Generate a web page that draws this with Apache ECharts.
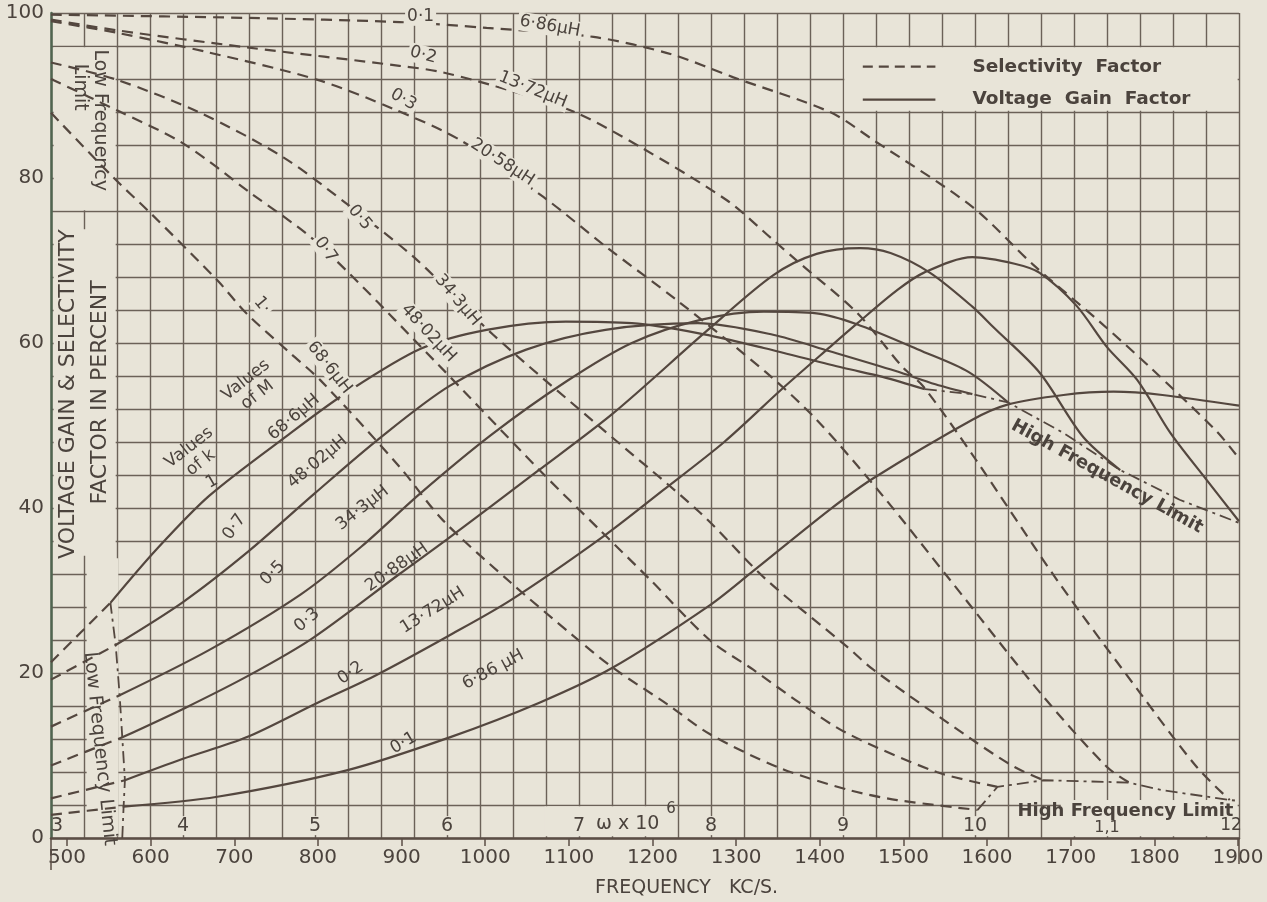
<!DOCTYPE html>
<html>
<head>
<meta charset="utf-8">
<script src="https://cdn.jsdelivr.net/npm/echarts@6.0.0/dist/echarts.min.js"></script>
<style>
  html, body { margin: 0; padding: 0; background: #e8e4d8; }
  #chart { width: 1267px; height: 902px; }
</style>
</head>
<body>
<div id="chart"></div>
<script>
// axis ticks
var freqTicks = [500, 600, 700, 800, 900, 1000, 1100, 1200, 1300, 1400, 1500, 1600, 1700, 1800, 1900];
var omegaLabels = [4, 5, 6, 8, 9, 10];

// voltage gain factor (solid), [omega x 10^6, percent]
var gainK1  = [[3.45,28.5],[3.8,35.0],[4.2,41.5],[4.8,48.9],[5.24,54.0],[5.8,59.3],[6.3,61.6],[6.9,62.6],[7.4,62.4],[7.9,61.2],[8.4,59.4],[9.0,57.0],[9.3,55.9],[9.62,54.4]];
var gainK07 = [[3.49,23.4],[4.0,28.6],[4.5,34.8],[5.0,41.8],[5.47,48.2],[6.02,54.8],[6.6,59.2],[7.2,61.6],[7.9,62.4],[8.47,61.0],[8.9,59.0],[9.4,56.6],[9.7,55.0],[9.98,53.8]];
var gainK05 = [[3.52,17.3],[4.2,22.8],[4.89,29.5],[5.35,35.3],[5.8,41.8],[6.33,48.8],[6.9,55.3],[7.4,60.0],[7.92,62.8],[8.4,63.8],[8.8,63.6],[9.1,62.3],[9.6,59.0],[9.95,56.5],[10.25,52.8]];
var gainK03 = [[3.54,12.2],[4.02,15.8],[4.51,19.8],[4.98,24.2],[5.64,32.0],[6.0,36.2],[6.68,44.4],[7.26,51.5],[7.97,61.5],[8.47,68.2],[8.8,70.8],[9.13,71.5],[9.36,70.9],[9.66,68.5],[9.98,64.4],[10.14,61.9],[10.49,56.4],[10.82,48.6],[11.1,44.6]];
var gainK02 = [[3.56,7.0],[4.0,9.6],[4.48,12.2],[5.02,16.4],[5.47,19.8],[6.0,24.4],[6.48,28.8],[7.18,36.5],[7.64,42.2],[8.1,48.0],[8.55,54.6],[8.9,59.5],[9.11,62.4],[9.41,66.4],[9.61,68.5],[9.98,70.4],[10.3,69.6],[10.49,68.5],[10.77,64.5],[11.0,59.5],[11.23,55.5],[11.48,49.1],[11.75,43.5],[12.0,38.4]];
var gainK01 = [[3.55,3.8],[4.26,5.0],[5.24,8.2],[6.02,12.2],[6.7,16.4],[7.25,20.6],[7.99,28.2],[8.3,32.1],[8.9,39.8],[9.23,43.6],[9.98,50.7],[10.24,52.5],[10.67,53.7],[11.05,54.1],[11.42,53.7],[12.0,52.4]];

// gain curves continued below the low frequency limit (dashed)
var extK1  = [[3.0,21.3],[3.45,28.5]];
var extK07 = [[3.0,19.2],[3.49,23.4]];
var extK05 = [[3.0,13.5],[3.52,17.3]];
var extK03 = [[3.0,8.8],[3.54,12.2]];
var extK02 = [[3.0,4.8],[3.56,7.0]];
var extK01 = [[3.0,2.8],[3.55,3.8]];

// selectivity factor (dashed)
var selK01 = [[3.0,99.8],[4.5,99.4],[5.64,98.9],[6.3,98.2],[7.11,97.1],[7.7,95.0],[8.17,92.2],[8.9,88.0],[9.23,84.6],[9.98,76.5],[10.44,69.5],[10.95,62.5],[11.33,57.0],[11.83,49.3],[12.0,46.0]];
var selK02 = [[3.0,99.2],[3.5,97.9],[4.5,95.8],[5.64,93.6],[5.97,92.8],[6.5,90.5],[6.98,87.9],[7.46,83.8],[8.12,77.3],[8.47,72.5],[8.67,69.7],[9.11,63.6],[9.45,57.1],[9.61,54.7],[10.0,46.0],[10.62,31.3],[11.25,17.6],[11.68,8.6],[11.93,4.6]];
var selK03 = [[3.0,99.0],[3.5,97.6],[4.2,95.2],[5.02,91.9],[5.59,88.4],[6.1,84.6],[6.73,77.7],[7.21,71.6],[7.74,65.2],[8.42,56.4],[8.8,50.7],[9.3,41.5],[9.81,31.3],[10.52,17.1],[11.0,8.6],[11.17,6.7]];
var selK05 = [[3.0,94.0],[3.5,91.9],[4.13,87.9],[4.76,82.5],[5.27,76.5],[5.77,70.1],[6.35,61.0],[7.16,49.8],[7.92,39.4],[8.42,31.3],[9.03,23.2],[9.23,20.4],[9.98,11.9],[10.3,8.6],[10.52,7.0]];
var selK07 = [[3.0,92.0],[3.5,88.2],[4.0,84.2],[4.51,78.2],[5.02,72.1],[5.92,57.6],[6.7,44.6],[7.16,37.3],[7.54,31.3],[7.99,24.0],[8.32,20.4],[8.67,16.4],[9.03,12.7],[9.71,8.0],[10.17,6.2]];
var selK1  = [[3.0,87.9],[3.47,80.1],[3.75,75.8],[4.26,67.6],[4.48,63.6],[4.81,58.8],[5.04,55.5],[5.64,45.0],[5.97,38.5],[6.48,31.0],[6.95,24.6],[7.26,20.6],[7.67,16.2],[7.99,12.6],[8.52,8.5],[9.05,5.8],[9.41,4.6],[10.02,3.4]];

// limit lines (dash-dot)
var lfLimit = [[3.54,0],[3.55,3.8],[3.56,7.0],[3.54,12.2],[3.52,17.3],[3.49,23.4],[3.45,28.5]];
var hfGainLimit = [[9.62,54.4],[9.98,53.8],[10.25,52.8],[10.67,49.1],[11.1,44.6],[11.55,41.0],[12.0,38.2]];
var hfSelLimit = [[10.02,3.4],[10.17,6.2],[10.52,7.0],[11.0,6.8],[11.17,6.7],[11.42,5.8],[11.93,4.6],[12.0,4.5]];

var PAPER = '#e8e4d8';
var INK = '#4b433d';
var GRID = '#6b6158';
var CURVE = '#54473f';
var FONT = '"DejaVu Sans", sans-serif';

function solid(data) {
  return { type: 'line', data: data, smooth: 0.3, showSymbol: false, silent: true,
    lineStyle: { color: CURVE, width: 2.2 }, z: 3 };
}
function dashed(data) {
  return { type: 'line', data: data, smooth: 0.3, showSymbol: false, silent: true,
    lineStyle: { color: CURVE, width: 2.2, type: [11, 7] }, z: 3 };
}
function dashDot(data) {
  return { type: 'line', data: data, smooth: false, showSymbol: false, silent: true,
    lineStyle: { color: CURVE, width: 1.8, type: [12, 5, 3, 5] }, z: 3 };
}

var chart = echarts.init(document.getElementById('chart'));

var option = {
  backgroundColor: PAPER,
  animation: false,
  grid: { left: 51, right: 28, top: 13, bottom: 64 },
  xAxis: [
    {
      type: 'value', min: 3, max: 12, interval: 0.25,
      axisLine: { show: true, lineStyle: { color: '#5b4e45', width: 2.5 } },
      axisTick: { show: false },
      axisLabel: { show: false },
      splitLine: { show: true, lineStyle: { color: GRID, width: 1.4 } }
    },
    {
      type: 'value', min: 480.9, max: 1901.2, position: 'bottom',
      axisLine: { show: false },
      axisTick: { show: true, customValues: freqTicks, length: 8, lineStyle: { color: '#5b4e45', width: 1.5 } },
      axisLabel: { customValues: freqTicks, margin: 10, color: INK, fontSize: 20, fontFamily: FONT,
        formatter: function (v) { return String(v); } },
      splitLine: { show: false }
    }
  ],
  yAxis: {
    type: 'value', min: 0, max: 100, interval: 4,
    axisLine: { show: true, lineStyle: { color: '#506550', width: 2.5 } },
    axisTick: { show: false },
    axisLabel: {
      color: INK, fontSize: 20, fontFamily: FONT, margin: 7,
      formatter: function (v) { return v % 20 === 0 ? String(v) : ''; }
    },
    splitLine: { show: true, lineStyle: { color: GRID, width: 1.4 } }
  },
  series: [
    solid(gainK1), solid(gainK07), solid(gainK05), solid(gainK03), solid(gainK02), solid(gainK01),
    dashed(extK1), dashed(extK07), dashed(extK05), dashed(extK03), dashed(extK02), dashed(extK01),
    dashed(selK01), dashed(selK02), dashed(selK03), dashed(selK05), dashed(selK07), dashed(selK1),
    dashDot(lfLimit), dashDot(hfGainLimit), dashDot(hfSelLimit)
  ]
};
chart.setOption(option);

// annotation positions in chart units [omega, percent]
var p = function (w, v) { return chart.convertToPixel({ seriesIndex: 0 }, [w, v]); };

function blank(w1, v1, w2, v2) {
  var a = p(w1, v2), b = p(w2, v1);
  return { type: 'rect', z: 1, silent: true, shape: { x: a[0], y: a[1], width: b[0] - a[0], height: b[1] - a[1] },
    style: { fill: PAPER } };
}
function label(w, v, text, rot, size, opts) {
  var xy = p(w, v);
  opts = opts || {};
  return { type: 'text', z: 6, silent: true, x: xy[0], y: xy[1], rotation: (rot || 0) * Math.PI / 180,
    style: { text: text, font: (opts.weight || 'normal') + ' ' + (size || 17) + 'px ' + FONT, fill: INK,
      align: opts.align || 'center', verticalAlign: 'middle', lineHeight: (size || 17) + 2,
      backgroundColor: opts.bg ? PAPER : null, padding: opts.bg ? [0, 2] : 0 } };
}
function pxText(x, y, text, rot, size, opts) {
  opts = opts || {};
  return { type: 'text', z: 6, silent: true, x: x, y: y, rotation: (rot || 0) * Math.PI / 180,
    style: { text: text, font: (opts.weight || 'normal') + ' ' + size + 'px ' + FONT, fill: INK,
      align: opts.align || 'center', verticalAlign: 'middle', backgroundColor: opts.bg ? PAPER : null,
      padding: opts.bg ? [0, 2] : 0 } };
}

var gainLabels = [
  [4.09, 46.4, 'Values\nof k', 38], [4.22, 43.2, '1', 30], [4.52, 54.6, 'Values\nof M', 38],
  [4.84, 51.0, '68·6μH', 40], [4.39, 37.7, '0·7', 55], [5.02, 45.6, '48·02μH', 40],
  [4.68, 32.1, '0·5', 45], [5.36, 40.0, '34·3μH', 38], [4.94, 26.4, '0·3', 40],
  [5.62, 32.8, '20·88μH', 35], [5.27, 20.0, '0·2', 35], [5.89, 27.6, '13·72μH', 32],
  [5.67, 11.5, '0·1', 30], [6.35, 20.4, '6·86 μH', 28]
];
var selLabels = [
  [5.80, 99.6, '0·1', 0], [6.78, 98.4, '6·86μH', -10], [5.82, 94.9, '0·2', -15],
  [6.65, 90.7, '13·72μH', -22], [5.67, 89.5, '0·3', -30], [6.42, 81.9, '20·58μH', -33],
  [5.34, 75.2, '0·5', -50], [5.08, 71.3, '0·7', -55], [4.60, 64.6, '1·', -50],
  [6.08, 65.2, '34·3μH', -50], [5.86, 61.2, '48·02μH', -47], [5.11, 57.0, '68·6μH', -52]
];

var g = [
  blank(9.01, 88.15, 11.99, 95.85),
  blank(3.02, 34.2, 3.49, 73.8),
  blank(3.02, 76.1, 3.49, 95.85),
  blank(3.27, 0.2, 3.51, 33.9),
  blank(6.74, 0.2, 7.74, 3.85),
  blank(10.65, 0.2, 11.99, 4.6)
];
gainLabels.forEach(function (d) { g.push(label(d[0], d[1], d[2], d[3], 17)); });
selLabels.forEach(function (d) { g.push(label(d[0], d[1], d[2], d[3], 17, { bg: true })); });

// omega labels inside the bottom axis
omegaLabels.forEach(function (w) {
  var xy = p(w, 1.5);
  g.push(pxText(xy[0], xy[1], String(w), 0, 19, { bg: true }));
});
var o3 = p(3, 1.5);
g.push(pxText(o3[0] + 6, o3[1], '3', 0, 19));
var o7 = p(7, 1.5);
g.push(pxText(o7[0], o7[1], '7', 0, 19));
g.push(pxText(o7[0] + 17, o7[1] - 2, 'ω x 10', 0, 19, { align: 'left' }));
g.push(pxText(o7[0] + 92, o7[1] - 17, '6', 0, 15));
var o11 = p(11, 1.5), o12 = p(12, 1.5);
g.push(pxText(o11[0], o11[1] + 2, '1,1', 0, 16));
g.push(pxText(o12[0] - 8, o12[1], '12', 0, 17));

// limit labels
g.push(label(3.37, 10.8, 'Low Frequency Limit', -84, 19));
g.push(label(3.37, 87.0, 'Low Frequency', -90, 19));
g.push(label(3.22, 91.0, 'Limit', -90, 19));
g.push(label(11.0, 43.8, 'High Frequency Limit', -29, 18, { weight: 'bold' }));
g.push(label(11.14, 3.2, 'High Frequency Limit', 0, 18, { weight: 'bold' }));

// axis titles
g.push(label(3.13, 53.8, 'VOLTAGE GAIN & SELECTIVITY', 90, 22));
g.push(label(3.37, 54.0, 'FACTOR IN PERCENT', 90, 22));
var ft = p(7.8, 0);
g.push(pxText(ft[0] + 2, 888, 'FREQUENCY   KC/S.', 0, 19));

// legend
var l1 = p(9.15, 93.5), l2 = p(9.7, 93.5), l3 = p(9.15, 89.5), l4 = p(9.7, 89.5);
g.push({ type: 'line', z: 6, silent: true, shape: { x1: l1[0], y1: l1[1], x2: l2[0], y2: l2[1] },
  style: { stroke: CURVE, lineWidth: 2.2, lineDash: [10, 6] } });
g.push({ type: 'line', z: 6, silent: true, shape: { x1: l3[0], y1: l3[1], x2: l4[0], y2: l4[1] },
  style: { stroke: CURVE, lineWidth: 2.2 } });
g.push(pxText(l2[0] + 37, l2[1] + 1, 'Selectivity  Factor', 0, 18.5, { align: 'left', weight: 'bold' }));
g.push(pxText(l4[0] + 37, l4[1], 'Voltage  Gain  Factor', 0, 18.5, { align: 'left', weight: 'bold' }));

// frame stubs below the frequency scale
var b0 = p(3, 0), b1 = p(12, 0);
g.push({ type: 'line', z: 6, silent: true, shape: { x1: b0[0], y1: b0[1], x2: b0[0], y2: b0[1] + 32 },
  style: { stroke: '#5b4e45', lineWidth: 1.5 } });
g.push({ type: 'line', z: 6, silent: true, shape: { x1: b1[0], y1: b1[1], x2: b1[0], y2: b1[1] + 26 },
  style: { stroke: '#5b4e45', lineWidth: 1.5 } });

chart.setOption({ graphic: { elements: g } });
</script>
</body>
</html>
